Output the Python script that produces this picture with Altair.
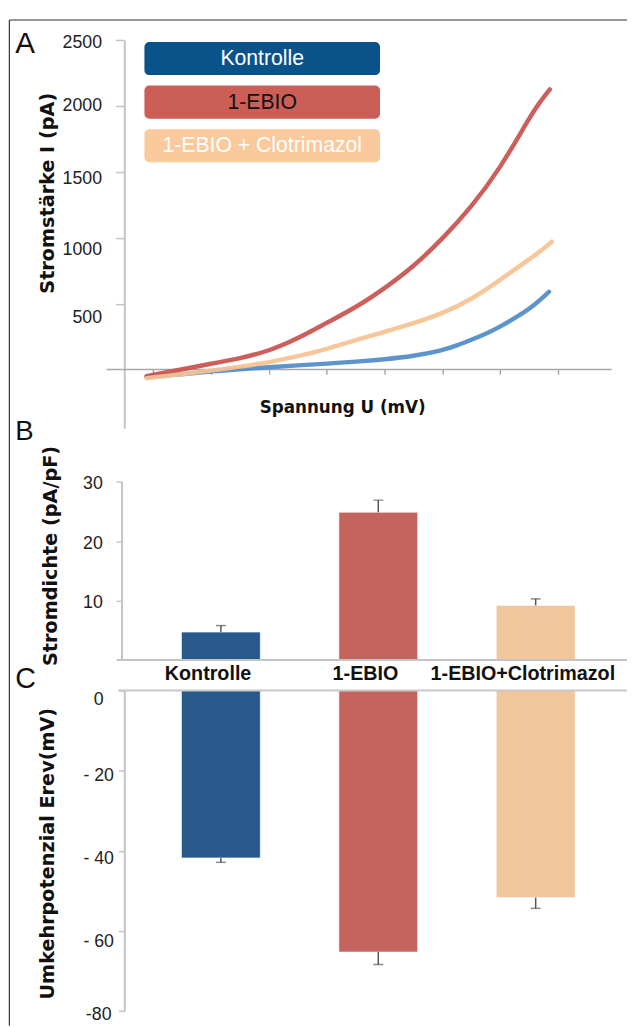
import altair as alt
import pandas as pd

# ---------------- data ----------------
conditions = ["Kontrolle", "1-EBIO", "1-EBIO + Clotrimazol"]
bar_labels = ["Kontrolle", "1-EBIO", "1-EBIO+Clotrimazol"]

# Panel A: I-V curves (U in mV, I in pA)
U_ctrl = [-102.3, -90, -80, -70, -60, -50, -40, -30, -20, -10, 0, 5, 10, 15, 20, 26.6, 31.2, 36.9]
I_ctrl = [-55, -35, -14, 3, 18, 32, 45, 60, 78, 102, 145, 183, 226, 270, 324, 411, 476, 590]

U_ebio = [-102.3, -90, -80, -70, -60, -50, -40, -30, -20, -10, 0, 10, 20, 30, 33.1, 37.2]
I_ebio = [-49, 2, 45, 85, 140, 235, 355, 470, 615, 780, 990, 1230, 1525, 1905, 2010, 2125]

U_clot = [-102.3, -90, -80, -70, -60, -50, -40, -30, -20, -10, 0, 10, 20, 30, 35, 37.9]
I_clot = [-65, -35, -8, 22, 55, 100, 155, 225, 285, 350, 425, 530, 680, 835, 915, 970]

# Panel B: current density (pA/pF)
density = [4.7, 24.9, 9.2]
density_err = [1.1, 2.05, 1.1]

# Panel C: reversal potential (mV)
erev = [-41.8, -65.3, -51.7]
erev_err = [1.1, 3.1, 2.7]

# tick values and tick labels
A_yticks = [500, 1000, 1500, 2000, 2500]
A_ylabels = ["500", "1000", "1500", "2000", "2500"]
A_xticks = [-100, -80, -60, -40, -20, 0, 20, 40]
B_yticks = [10, 20, 30]
C_yticks = [0, -20, -40, -60, -80]
C_ylabels = ["0", "- 20", "- 40", "- 60", "-80"]

# ---------------- styles ----------------
legend_fill = ["#0a538a", "#cc5e58", "#fac99c"]
legend_text = ["#ffffff", "#111111", "#ffffff"]
curve_colors = ["#4f8bc8", "#c8514d", "#f6c291"]
bar_colors = ["#27598a", "#c5635e", "#f2c69b"]
AX = "#c4c4c4"
TITLE_FONT = "DejaVu Sans"
LABEL_FONT = "Liberation Sans"
A_label_dy = [15, 13, 7, 0, 3]      # label placement as in the source figure
C_label_dy = [10, 6, 8.5, 11, 4]

W = 510
HA, HB, HC = 394, 204, 325

# ---------------- axes / scales ----------------
scaleA_y = alt.Scale(domain=[-445.6, 2500], nice=False, zero=False)
axisA_y = alt.Axis(values=A_yticks, labels=False, tickSize=9, tickColor=AX, tickWidth=1.5,
                   domainColor=AX, domainWidth=2, grid=False,
                   title="Stromstärke I (pA)", titleFont=TITLE_FONT,
                   titleFontWeight="bold", titleFontSize=19.5, titleColor="#111",
                   titleAngle=270, titleX=-78, titleY=155, titleAlign="center",
                   titleBaseline="middle")
scaleC_y = alt.Scale(domain=[-80, 0], nice=False)
axisC_y = alt.Axis(values=C_yticks, labels=False, tickSize=6, tickColor=AX, tickWidth=1.5,
                   domainColor=AX, domainWidth=2, grid=False,
                   title="Umkehrpotenzial Erev(mV)", titleFont=TITLE_FONT,
                   titleFontWeight="bold", titleFontSize=19.5, titleColor="#111",
                   titleAngle=270, titleX=-78, titleY=165, titleAlign="center",
                   titleBaseline="middle")


def tick_labels(values, labels, dys, field, scale, axis, x_px, align):
    out = []
    for v, t, d in zip(values, labels, dys):
        df = pd.DataFrame({field: [v], "t": [t]})
        out.append(alt.Chart(df).mark_text(
            font=LABEL_FONT, fontSize=18, color="#222", align=align,
            baseline="middle", dy=d).encode(
            y=alt.Y(f"{field}:Q", scale=scale, axis=axis), x=alt.value(x_px), text="t:N"))
    return out


# ---------------- panel A ----------------
curves = pd.concat([
    pd.DataFrame({"U": U_ctrl, "I": I_ctrl, "curve": conditions[0]}),
    pd.DataFrame({"U": U_ebio, "I": I_ebio, "curve": conditions[1]}),
    pd.DataFrame({"U": U_clot, "I": I_clot, "curve": conditions[2]}),
])

xA = alt.X("U:Q", scale=alt.Scale(domain=[-110.0, 63.9], nice=False, zero=False),
           axis=alt.Axis(values=A_xticks, labels=False, domain=False, ticks=True,
                         tickSize=5, tickColor="#a8a8a8", tickWidth=1.5, offset=-59.9,
                         grid=False, title="Spannung U (mV)", titleFont=TITLE_FONT,
                         titleFontWeight="bold", titleFontSize=17, titleColor="#111",
                         titleX=221, titleY=39, titleAlign="center", titleBaseline="middle",
                         titleAngle=0))
yA = alt.Y("I:Q", scale=scaleA_y, axis=axisA_y)

lines = alt.Chart(curves).mark_line(strokeWidth=4.5, interpolate="basis",
                                    strokeCap="round", opacity=0.92).encode(
    x=xA, y=yA,
    color=alt.Color("curve:N", scale=alt.Scale(domain=conditions, range=curve_colors), legend=None),
    detail="curve:N",
)

one = pd.DataFrame({"z": [0]})
zero_rule = alt.Chart(one).mark_rule(color="#a8a8a8", strokeWidth=1.5).encode(
    y=alt.datum(0), x=alt.value(-18), x2=alt.value(494.4))

layersA = [zero_rule, lines]
layersA += tick_labels(A_yticks, A_ylabels, A_label_dy, "I", scaleA_y, axisA_y, -22.6, "right")
for i, c in enumerate(conditions):
    top = 2.1 + 44.2 * i
    df = pd.DataFrame({"label": [c]})
    layersA.append(alt.Chart(df).mark_rect(cornerRadius=5, color=legend_fill[i]).encode(
        x=alt.value(20.4), x2=alt.value(259.4), y=alt.value(top), y2=alt.value(top + 33.5)))
    layersA.append(alt.Chart(df).mark_text(font=LABEL_FONT, fontSize=21.5, color=legend_text[i],
                                           align="center", baseline="middle").encode(
        text="label:N", x=alt.value(139.9), y=alt.value(top + 17.5)))

frame_l = alt.Chart(one).mark_rule(color="#333", strokeWidth=1.2).encode(
    x=alt.value(-116.6), y=alt.value(-20.3), y2=alt.value(1000))
frame_t = alt.Chart(one).mark_rule(color="#333", strokeWidth=1.2).encode(
    x=alt.value(-116.6), x2=alt.value(W), y=alt.value(-20.3))
letterA = alt.Chart(pd.DataFrame({"t": ["A"]})).mark_text(
    font=LABEL_FONT, fontSize=30, align="left", baseline="alphabetic", color="#111").encode(
    text="t:N", x=alt.value(-110.6), y=alt.value(12.7))
layersA += [frame_l, frame_t, letterA]

panelA = alt.layer(*layersA).properties(width=W, height=HA)

# ---------------- panel B ----------------
dfB = pd.DataFrame({"cond": bar_labels, "v": density, "e": density_err})
band = alt.Scale(paddingInner=0.4994, paddingOuter=0.3467, align=0.524)
colorBars = alt.Color("cond:N", scale=alt.Scale(domain=bar_labels, range=bar_colors), legend=None)

xB = alt.X("cond:N", sort=bar_labels, scale=band,
           axis=alt.Axis(orient="bottom", labelFont=LABEL_FONT, labelFontWeight="bold",
                         labelFontSize=20, labelAngle=0, labelOffset=-13, labelPadding=4,
                         labelBaseline="top", labelLimit=300, labelColor="#111",
                         ticks=False, domain=False, title=None))
yB = alt.Y("v:Q", scale=alt.Scale(domain=[0, 33.9], nice=False),
           axis=alt.Axis(values=B_yticks, tickSize=6, tickColor=AX, tickWidth=1.5,
                         domain=False, offset=2.3, labelFont=LABEL_FONT, labelFontSize=18,
                         labelColor="#222", labelPadding=14, labelOffset=2, labelFlush=False,
                         grid=False, title="Stromdichte (pA/pF)", titleFont=TITLE_FONT,
                         titleFontWeight="bold", titleFontSize=19.5, titleColor="#111",
                         titleAngle=270, titleX=-72.5, titleY=98, titleAlign="center",
                         titleBaseline="middle"))

baseB = alt.Chart(dfB)
barsB = baseB.mark_bar(stroke="white", strokeWidth=1, strokeOpacity=0.6).encode(
    x=xB, y=yB, color=colorBars)
errB = baseB.transform_calculate(top="datum.v + datum.e").mark_rule(
    color="#555", strokeWidth=1.5).encode(
    x=alt.X("cond:N", sort=bar_labels), y="v:Q", y2="top:Q")
capB = baseB.transform_calculate(top="datum.v + datum.e").mark_tick(
    color="#555", size=10, thickness=1.5).encode(
    x=alt.X("cond:N", sort=bar_labels), y="top:Q")
yaxisB = alt.Chart(one).mark_rule(color=AX, strokeWidth=2).encode(
    x=alt.value(-2.3), y=alt.datum(0), y2=alt.datum(30))
baselineB = alt.Chart(one).mark_rule(color=AX, strokeWidth=2).encode(
    x=alt.value(-7.6), x2=alt.value(W), y=alt.datum(0))
letterB = alt.Chart(pd.DataFrame({"t": ["B"]})).mark_text(
    font=LABEL_FONT, fontSize=28, align="left", baseline="alphabetic", color="#111").encode(
    text="t:N", x=alt.value(-110.6), y=alt.value(-19.4))

panelB = alt.layer(barsB, errB, capB, yaxisB, baselineB, letterB).properties(width=W, height=HB)

# ---------------- panel C ----------------
dfC = pd.DataFrame({"cond": bar_labels, "v": erev, "e": erev_err})
xC = alt.X("cond:N", sort=bar_labels, scale=band, axis=None)
yC = alt.Y("v:Q", scale=scaleC_y, axis=axisC_y)
baseC = alt.Chart(dfC)
barsC = baseC.mark_bar(stroke="white", strokeWidth=1, strokeOpacity=0.6).encode(
    x=xC, y=yC, color=colorBars)
errC = baseC.transform_calculate(bot="datum.v - datum.e").mark_rule(
    color="#555", strokeWidth=1.5).encode(
    x=alt.X("cond:N", sort=bar_labels), y=yC, y2="bot:Q")
capC = baseC.transform_calculate(bot="datum.v - datum.e").mark_tick(
    color="#555", size=10, thickness=1.5).encode(
    x=alt.X("cond:N", sort=bar_labels), y=alt.Y("bot:Q", scale=scaleC_y, axis=axisC_y))
topC = alt.Chart(one).mark_rule(color="#c8c8c8", strokeWidth=2).encode(
    x=alt.value(-6.3), x2=alt.value(W), y=alt.datum(0))
letterC = alt.Chart(pd.DataFrame({"t": ["C"]})).mark_text(
    font=LABEL_FONT, fontSize=29, align="left", baseline="alphabetic", color="#111").encode(
    text="t:N", x=alt.value(-110.6), y=alt.value(-2.5))
labelsC = tick_labels(C_yticks, C_ylabels, C_label_dy, "v", scaleC_y, axisC_y, -26, "center")

panelC = alt.layer(barsC, errC, capC, topC, letterC, *labelsC).properties(width=W, height=HC)

chart = alt.vconcat(panelA, panelB, panelC, spacing=31, bounds="flush").resolve_scale(
    color="independent"
).properties(
    padding={"top": 4, "left": 0, "right": 0, "bottom": 0},
    background="white",
).configure_view(stroke=None)

chart.save("out.html", embed_options={"renderer": "svg", "actions": False})
